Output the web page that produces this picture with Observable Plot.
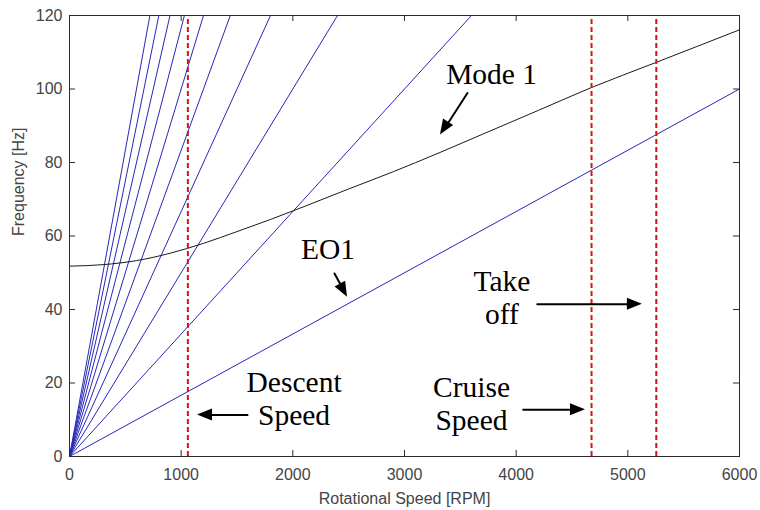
<!DOCTYPE html>
<html>
<head>
<meta charset="utf-8">
<script src="https://cdn.jsdelivr.net/npm/d3@7"></script>
<script src="https://cdn.jsdelivr.net/npm/@observablehq/plot@0.6"></script>
<style>
  html, body { margin: 0; padding: 0; background: #fff; }
  #chart { width: 760px; height: 510px; }
</style>
</head>
<body>
<div id="chart"></div>
<script>
// Engine-order lines (straight from origin): end points
const eoOrder  = [1, 2, 3, 4, 5, 6, 7, 8, 9, 10];
const eoEndRPM = [6000, 3600, 2400, 1800, 1440, 1200, 1029, 900, 800, 720];
const eoEndHz  = [100, 120, 120, 120, 120, 120, 120, 120, 120, 120];

// Mode 1 natural frequency curve
const modeRPM = [0, 300, 600, 900, 1200, 1500, 1800, 2100, 2500, 2900, 3300, 3700, 4200, 4675, 5250, 6000];
const modeHz  = [51.8, 52.2, 53.3, 55.3, 58.0, 61.2, 64.5, 68.0, 72.8, 77.5, 82.5, 87.7, 94.2, 100.4, 107.2, 116.1];

// Operating speeds (descent, cruise, take off)
const opSpeedRPM = [1060, 4675, 5255];

// Ticks
const xTicks = [0, 1000, 2000, 3000, 4000, 5000, 6000];
const yTicks = [0, 20, 40, 60, 80, 100, 120];

// Annotations
const labelText = ["Mode 1", "EO1", "Descent\nSpeed", "Cruise\nSpeed", "Take\noff"];
const labelRPM  = [3780, 2315, 2011, 3600, 3872];
const labelHz   = [104.2, 56.6, 15.9, 14.6, 43.4];

const arrowFromRPM = [3564, 2373, 1594, 4063, 4189];
const arrowFromHz  = [98.9, 49.8, 11.3, 12.7, 41.4];
const arrowToRPM   = [3322, 2490, 1146, 4621, 5130];
const arrowToHz    = [87.5, 43.3, 11.3, 12.7, 41.4];

// Tables built from the arrays
const eoRows = eoOrder.flatMap((o, i) => [
  {order: o, rpm: 0, hz: 0},
  {order: o, rpm: eoEndRPM[i], hz: eoEndHz[i]}
]);
const modeRows = modeRPM.map((r, i) => ({rpm: r, hz: modeHz[i]}));
const labels = labelText.map((t, i) => ({t, rpm: labelRPM[i], hz: labelHz[i]}));
const arrows = arrowFromRPM.map((r, i) => ({x1: r, y1: arrowFromHz[i], x2: arrowToRPM[i], y2: arrowToHz[i]}));

const W = 760, H = 510;
const mL = 69, mR = 21, mT = 15, mB = 54;
const fw = W - mL - mR, fh = H - mT - mB;
const tickLen = 6;
const axisColor = "#2a2a2a";

const plot = Plot.plot({
  width: W,
  height: H,
  marginLeft: mL,
  marginRight: mR,
  marginTop: mT,
  marginBottom: mB,
  style: {fontFamily: "'Liberation Sans', Arial, sans-serif", fontSize: "16px", color: "#444", background: "#fff"},
  x: {domain: [0, 6000], ticks: xTicks, tickFormat: d => String(d), tickSize: 0, tickPadding: 12, label: null},
  y: {domain: [0, 120], ticks: yTicks, tickFormat: d => String(d), tickSize: 0, tickPadding: 7, label: null},
  marks: [
    // engine order lines
    Plot.line(eoRows, {x: "rpm", y: "hz", z: "order", stroke: "#2727b8", strokeWidth: 1}),
    // mode 1
    Plot.line(modeRows, {x: "rpm", y: "hz", stroke: "#1a1a1a", strokeWidth: 1, curve: "monotone-x"}),
    // operating speeds
    Plot.ruleX(opSpeedRPM, {x: d => d, y1: 0, y2: 120, stroke: "#dd1111", strokeWidth: 2, strokeDasharray: "5,3"}),
    // frame and inward ticks
    Plot.frame({stroke: axisColor, strokeWidth: 1}),
    Plot.tickX(xTicks, {x: d => d, insetTop: fh - tickLen, stroke: axisColor}),
    Plot.tickX(xTicks, {x: d => d, insetBottom: fh - tickLen, stroke: axisColor}),
    Plot.tickY(yTicks, {y: d => d, insetRight: fw - tickLen, stroke: axisColor}),
    Plot.tickY(yTicks, {y: d => d, insetLeft: fw - tickLen, stroke: axisColor}),
    // axis titles
    Plot.text(["Rotational Speed [RPM]"], {frameAnchor: "bottom", dy: 42, text: d => d, fill: "#444", fontSize: 16, lineAnchor: "middle"}),
    Plot.text(["Frequency [Hz]"], {frameAnchor: "left", dx: -51, rotate: -90, text: d => d, fill: "#444", fontSize: 16, lineAnchor: "middle"}),
    // annotations
    Plot.text(labels, {x: "rpm", y: "hz", text: "t", fill: "#000", fontFamily: "'Liberation Serif', 'Times New Roman', serif",
      fontSize: 29.5, lineHeight: 1.13, lineAnchor: "middle", textAnchor: "middle"}),
    Plot.arrow(arrows, {x1: "x1", y1: "y1", x2: "x2", y2: "y2", stroke: "#000", strokeWidth: 2, headLength: 0, insetEnd: 10})
  ]
});

document.getElementById("chart").appendChild(plot);

// filled arrow heads placed through the plot's own scales
const sx = plot.scale("x"), sy = plot.scale("y");
const svg = d3.select(plot);
const headL = 15, headW = 12;
arrows.forEach(a => {
  const x1 = sx.apply(a.x1), y1 = sy.apply(a.y1), x2 = sx.apply(a.x2), y2 = sy.apply(a.y2);
  const len = Math.hypot(x2 - x1, y2 - y1);
  const ux = (x2 - x1) / len, uy = (y2 - y1) / len;
  const bx = x2 - ux * headL, by = y2 - uy * headL;
  const px = -uy * headW / 2, py = ux * headW / 2;
  svg.append("polygon")
    .attr("points", `${x2},${y2} ${bx + px},${by + py} ${bx - px},${by - py}`)
    .attr("fill", "#000");
});
</script>
</body>
</html>
